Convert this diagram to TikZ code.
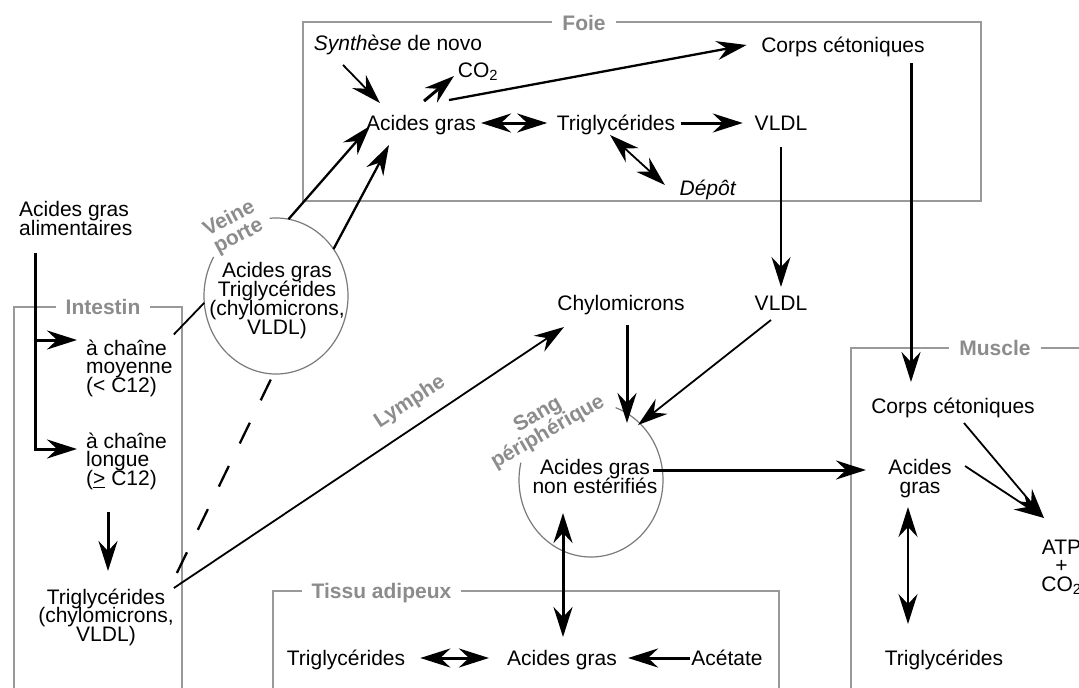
\documentclass[tikz,border=0pt]{standalone}
\usepackage{fontspec}
\setmainfont{Liberation Sans}
\usetikzlibrary{arrows.meta}
\definecolor{boxgray}{HTML}{999999}
\definecolor{lblgray}{HTML}{8C8C8C}
\definecolor{arcgray}{HTML}{7A7A7A}
\newcommand\mytxtfont{\fontsize{21}{18.8}\selectfont\lineskiplimit=-100pt\lineskip=0pt\relax}
\newcommand\mytagfont{\fontsize{21}{20}\selectfont\bfseries\lineskiplimit=-100pt\lineskip=0pt\relax}
\newcommand\myttlfont{\fontsize{21}{20}\selectfont\bfseries}
\tikzset{
  txt/.style={inner sep=0pt, font=\mytxtfont},
  one/.style={txt, text height=15pt, text depth=4.5pt},
  box/.style={draw=boxgray, line width=1.3pt},
  ttl/.style={fill=white, inner xsep=10pt, inner ysep=2pt, text=lblgray, font=\myttlfont, text height=15pt, text depth=4.5pt},
  tag/.style={text=lblgray, inner sep=0pt, align=center, font=\mytagfont},
  arcc/.style={draw=arcgray, line width=1.2pt},
  ar/.style={-{Stealth[length=30pt,width=19pt,inset=10pt]}},
  dar/.style={{Stealth[length=30pt,width=19pt,inset=10pt]}-{Stealth[length=30pt,width=19pt,inset=10pt]}},
  thk/.style={line width=3pt},
  med/.style={line width=2.3pt},
  thn/.style={line width=1.8pt}
}
\begin{document}
\begin{tikzpicture}[x=1pt,y=-1pt]
\useasboundingbox (0,0) rectangle (1079,688);
\clip (0,0) rectangle (1079,688);
\fill[white] (0,0) rectangle (1079,688);

% boxes
\draw[box] (303,22) rectangle (981,201);
\draw[box] (14,307) rectangle (182,720);
\draw[box] (851,348) rectangle (1100,720);
\draw[box] (273,591) rectangle (779,720);
\node[ttl] (tFoie) at (584,25) {Foie};
\node[ttl] (tInt) at (103,309) {Intestin};
\node[ttl] (tMus) at (995,350) {Muscle};
\node[ttl] (tTis) at (381.5,593) {Tissu adipeux};

% circles (open arcs)
\coordinate (vp) at (276,296);
\coordinate (sp) at (591,480);
\draw[arcc] plot[domain=265:570, samples=150] ({276+72*cos(\x)},{296+78*sin(\x)});
\draw[arcc] plot[domain=290:553, samples=150] ({591+72*cos(\x)},{480+77*sin(\x)});

% gray tags
\node[tag, rotate=28] (vpL) at (234,228) {Veine\\porte};
\node[tag, rotate=33] (lyL) at (410,402) {Lymphe};
\node[tag, rotate=30] (spL) at (543,424) {Sang\\périphérique};

% Foie texts
\node[one] (syn) at (398,45) {\textit{Synthèse} de novo};
\node[one] (co2) at (478,72) {CO\textsubscript{2}};
\node[one] (agF) at (421,125) {Acides gras};
\node[one] (tgF) at (616,125) {Triglycérides};
\node[one] (vlF) at (781,125) {VLDL};
\node[one] (ccF) at (843,47) {Corps cétoniques};
\node[one] (dep) at (708,190) {\textit{Dépôt}};

% left texts
\node[txt, align=left, anchor=north west] (aga) at (19,201.5) {Acides gras\\alimentaires};
\node[txt, align=left, anchor=north west] (moy) at (86,339.5) {à chaîne\\moyenne\\(< C12)};
\node[txt, align=left, anchor=north west] (lon) at (86,432.5) {à chaîne\\longue\\(\underline{>} C12)};
\node[txt, align=center, anchor=north] (tgI) at (106,588.5) {Triglycérides\\(chylomicrons,\\VLDL)};
\node[txt, align=center, anchor=north] (vpT) at (277,262.5) {Acides gras\\Triglycérides\\(chylomicrons,\\VLDL)};

% middle texts
\node[one] (chy) at (621,305) {Chylomicrons};
\node[one] (vlM) at (781,305) {VLDL};
\node[txt, align=center, anchor=north] (nefa) at (595,459.5) {Acides gras\\non estérifiés};

% muscle texts
\node[one] (ccM) at (953,408) {Corps cétoniques};
\node[txt, align=center, anchor=north] (agM) at (920,459.5) {Acides\\gras};
\node[txt, align=center, anchor=north] (atp) at (1061.5,539.5) {ATP\\+\\CO\textsubscript{2}};
\node[one] (tgM) at (944,660) {Triglycérides};

% tissu adipeux texts
\node[one] (tgT) at (346,660) {Triglycérides};
\node[one] (agT) at (562,660) {Acides gras};
\node[one] (ace) at (727,660) {Acétate};

% Foie connectors
\draw[thn, ar] ([shift={(-55,10)}]syn.south) -- ([shift={(-41,-12)}]agF.north);
\draw[thk, ar] ([shift={(3,-14)}]agF.north) -- ([shift={(-24,4)}]co2.center);
\draw[med, ar] ([shift={(28,-15)}]agF.north) -- ([shift={(-14.5,-2)}]ccF.west);
\draw[thk, dar] ([shift={(5,-2)}]agF.east) -- ([shift={(-9.5,-2)}]tgF.west);
\draw[thk, ar] ([shift={(5.5,-2)}]tgF.east) -- ([shift={(-11.75,-2)}]vlF.west);
\draw[thn, dar] ([shift={(-6,0)}]tgF.south) -- ([shift={(-14.5,-5)}]dep.west);
\draw[thn, ar] ([shift={(0,22)}]vlF.center) -- ([shift={(0,-18)}]vlM.center);
\draw[thk, ar] ([shift={(68,16)}]ccF.center) -- ([shift={(-42,-26)}]ccM.center);

% veine porte
\draw[med, ar] ([shift={(280:72 and 78)}]vp) -- ([shift={(-51,1)}]agF.center);
\draw[med, ar] ([shift={(323:72 and 78)}]vp) -- ([shift={(-32,20)}]agF.center);

% intestin
\coordinate (vstart) at ([shift={(16,17)}]aga.south west);
\coordinate (moyIn) at ([shift={(-9,0.5)}]moy.north west);
\coordinate (lonIn) at ([shift={(-9,16.5)}]lon.north west);
\draw[thk, ar] (vstart) |- (lonIn);
\draw[thk, ar] (vstart |- moyIn) -- (moyIn);
\draw[thn] ([shift={(1,-5)}]moy.north east) -- ([shift={(175:72 and 78)}]vp);
\draw[thk, ar] ([shift={(22,22)}]lon.south west) -- ([shift={(2,-17.5)}]tgI.north);
\draw[med, dash pattern=on 23pt off 25pt] ([shift={(3,-15.5)}]tgI.north east) -- ([shift={(92:72 and 78)}]vp);
\draw[thn, ar] ([shift={(0,-0.5)}]tgI.north east) -- ([shift={(-57,22)}]chy.center);

% sang
\draw[thk, ar] ([shift={(6,20)}]chy.center) -- ([shift={(36,-57)}]sp);
\draw[thn, ar] ([shift={(-10,15)}]vlM.center) -- ([shift={(47,-55)}]sp);
\draw[thk, ar] ([shift={(58,10.5)}]nefa.north) -- ([shift={(-54,10.5)}]agM.north);
\draw[thk, dar] ([shift={(-28,33)}]sp) -- ([shift={(1,-23)}]agT.center);

% muscle
\draw[thn, ar] ([shift={(11,15)}]ccM.center) -- ([shift={(-17.5,-21.5)}]atp.north);
\draw[thn, ar] ([shift={(45,6.5)}]agM.north) -- ([shift={(-17.5,-21.5)}]atp.north);
\draw[thn, dar] ([shift={(-12,47.5)}]agM.north) -- ([shift={(-36,-36)}]tgM.center);

% tissu adipeux
\draw[thk, dar] ([shift={(15,-2)}]tgT.east) -- ([shift={(-18,-2)}]agT.west);
\draw[thk, ar] ([shift={(-1,-2)}]ace.west) -- ([shift={(11,-2)}]agT.east);
\end{tikzpicture}
\end{document}
